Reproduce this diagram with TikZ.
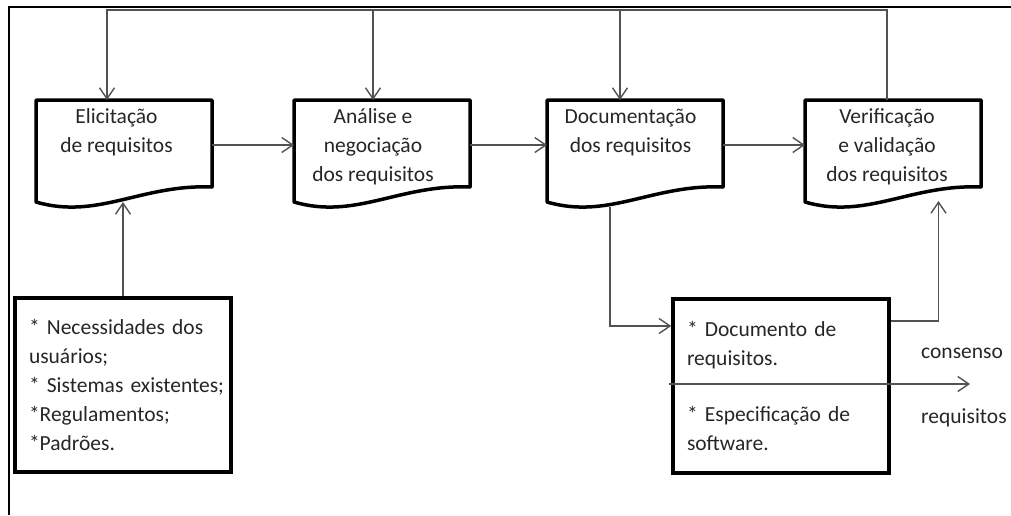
\documentclass[tikz,border=0pt]{standalone}
\usepackage{fontspec}
\setmainfont{Carlito}
\usetikzlibrary{arrows.meta,calc}

% outline of a flowchart "document" symbol around a named rectangle node
\newcommand{\docoutline}[1]{%
  \draw[docline] (#1.south west) -- (#1.north west) -- (#1.north east)
    -- ([yshift=15pt]#1.south east)
    .. controls ([xshift=105.6pt,yshift=18pt]#1.south west)
       and ([xshift=61.6pt,yshift=-18pt]#1.south west) .. cycle;}

\begin{document}
\begin{tikzpicture}[x=1pt,y=-1pt,
  frame/.style={line width=2.5pt,black},
  docshape/.style={draw=none,minimum width=176pt,minimum height=102pt,
    inner sep=0pt,outer sep=0pt,anchor=north west},
  docline/.style={line width=3.5pt,black,line join=round},
  doclabel/.style={anchor=north,align=center,inner sep=0pt,text=black!85,
    font=\fontsize{21.5pt}{29pt}\selectfont},
  listbox/.style={draw=black,line width=3.5pt,minimum width=216pt,
    minimum height=174pt,text width=188pt,inner xsep=14pt,align=left,
    text=black!85,font=\fontsize{21.5pt}{28.8pt}\selectfont},
  conn/.style={line width=1.4pt,black!68,
    -{Straight Barb[length=11pt,width=15pt,line width=1.4pt]}},
  tag/.style={anchor=west,inner sep=0pt,text=black!85,
    font=\fontsize{21.5pt}{26pt}\selectfont}
]
\useasboundingbox (0,0) rectangle (1011,515);

% page frame
\draw[frame] (1011,7) -- (9,7) -- (9,515);

% the four process steps
\node[docshape] (eli) at (36,100) {};
\node[docshape] (ana) at (294,100) {};
\node[docshape] (doc) at (547,100) {};
\node[docshape] (ver) at (805,100) {};
\docoutline{eli}
\docoutline{ana}
\docoutline{doc}
\docoutline{ver}
\node[doclabel] (eli-t) at ([xshift=-7.5pt,yshift=-8.5pt]eli.north) {Elicitação\\de requisitos};
\node[doclabel] (ana-t) at ([xshift=-9pt,yshift=-8.5pt]ana.north) {Análise e\\negociação\\dos requisitos};
\node[doclabel] (doc-t) at ([xshift=-4.5pt,yshift=-8.5pt]doc.north) {Documentação\\dos requisitos};
\node[doclabel] (ver-t) at ([xshift=-6pt,yshift=-8.5pt]ver.north) {Verificação\\e validação\\dos requisitos};

% inputs and outputs
\node[listbox] (needs) at (123,385) {{*} Necessidades dos\\usuários;\\\mbox{{*} Sistemas existentes;}\\{*}Regulamentos;\\{*}Padrões.};
\node[listbox] (spec) at (781,386) {{*} Documento de\\requisitos.\\[28pt]{*} Especificação de\\software.};

% main flow
\draw[conn] ([yshift=6pt]eli.east) -- ([yshift=6pt]ana.west);
\draw[conn] ([yshift=6pt]ana.east) -- ([yshift=6pt]doc.west);
\draw[conn] ([yshift=6pt]doc.east) -- ([yshift=6pt]ver.west);

% feedback loop along the top
\coordinate (fb) at (0,10);
\draw[conn] ([xshift=-6pt]ver.north) |- ([xshift=-17pt]eli.north |- fb) -- ([xshift=-17pt]eli.north);
\draw[conn] ([xshift=-9pt]ana.north |- fb) -- ([xshift=-9pt]ana.north);
\draw[conn] ([xshift=-15pt]doc.north |- fb) -- ([xshift=-15pt]doc.north);

% links to the boxes
\draw[conn] (needs.north) -- (needs.north |- eli.south);
\draw[conn] ([xshift=-25pt,yshift=-5pt]doc.south) |- ([yshift=60pt]spec.west);
\draw[conn] ([yshift=65pt]spec.east) -| ([xshift=45.5pt,yshift=1pt]ver.south);

% consensus output
\coordinate (out) at (970,384);
\draw[conn] ([xshift=-2pt]spec.west |- out) -- (out);
\node[tag] (cons) at (921,353) {consenso};
\node[tag] (req) at (921,418) {requisitos};
\end{tikzpicture}
\end{document}
